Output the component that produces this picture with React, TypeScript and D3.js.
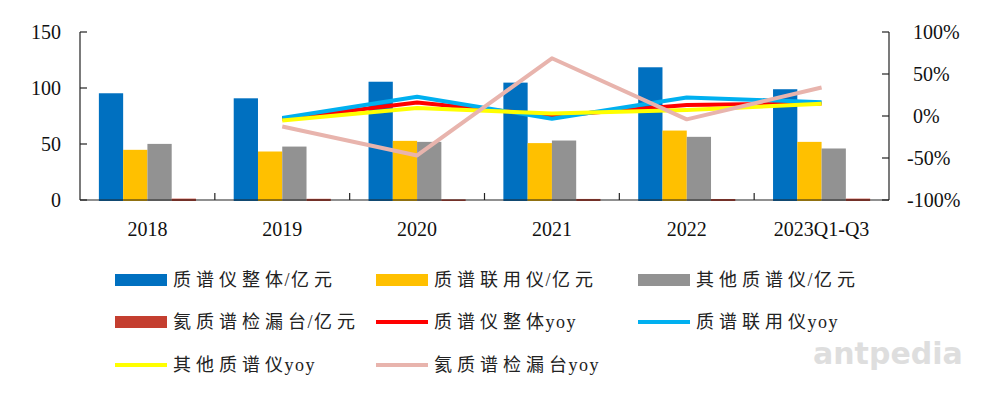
import React from "react";
import * as d3 from "d3";

const categories = ["2018", "2019", "2020", "2021", "2022", "2023Q1-Q3"];
const msTotal = [95.3, 90.8, 105.6, 104.8, 118.5, 98.9];
const msHyphenated = [44.8, 43.3, 52.8, 50.8, 62.0, 51.9];
const msOther = [50.1, 47.7, 51.9, 53.1, 56.4, 46.0];
const heliumLeak = [1.2, 1.05, 0.56, 0.94, 0.9, 1.2];

const yoyCats = ["2019", "2020", "2021", "2022", "2023Q1-Q3"];
const yoyTotal = [-3.7, 16, 0, 13, 15];
const yoyHyphenated = [-2.5, 23, -3.3, 22, 16.5];
const yoyOther = [-5.3, 9.4, 3, 7, 14.5];
const yoyHelium = [-12.5, -47, 68.7, -4, 34];

const leftTicks = [0, 50, 100, 150];
const rightTicks = [-100, -50, 0, 50, 100];

const barSeries = [
  { name: "质谱仪整体/亿元", values: msTotal, color: "#0070C0" },
  { name: "质谱联用仪/亿元", values: msHyphenated, color: "#FFC000" },
  { name: "其他质谱仪/亿元", values: msOther, color: "#929292" },
  { name: "氦质谱检漏台/亿元", values: heliumLeak, color: "#C43E2F" },
];
const lineSeries = [
  { name: "质谱仪整体yoy", values: yoyTotal, color: "#FF0000" },
  { name: "质谱联用仪yoy", values: yoyHyphenated, color: "#00B0F0" },
  { name: "其他质谱仪yoy", values: yoyOther, color: "#FFFF00" },
  { name: "氦质谱检漏台yoy", values: yoyHelium, color: "#E8B4AD" },
];

const FONT = "'Liberation Serif', 'Noto Sans CJK SC', serif";

function chars(s: string) {
  const arr = Array.from(s);
  return arr.map((ch, i) => {
    const cjk = /[\u3000-\u9fff]/.test(ch);
    const nextCjk = i + 1 < arr.length && /[\u3000-\u9fff]/.test(arr[i + 1]);
    return { t: ch, ls: cjk && nextCjk ? 5 : 1.5 };
  });
}

export default function App() {
  const W = 1000, H = 403;
  const x0 = 80, x1 = 889, yTop = 32, yBot = 200;
  const x = d3.scaleBand<string>().domain(categories).range([x0, x1]).padding(0);
  const bw = x.bandwidth();
  const xs = d3
    .scaleBand<string>()
    .domain(barSeries.map((s) => s.name))
    .range([bw * 0.14, bw * 0.86])
    .padding(0);
  const yL = d3.scaleLinear().domain([0, 150]).range([yBot, yTop]);
  const yR = d3.scaleLinear().domain([-100, 100]).range([yBot, yTop]);
  const line = d3
    .line<[string, number]>()
    .x((d) => (x(d[0]) as number) + bw / 2)
    .y((d) => yR(d[1]));

  const legendItems = [...barSeries.map((s) => ({ ...s, type: "bar" })), ...lineSeries.map((s) => ({ ...s, type: "line" }))];
  const colX = [115, 376, 638];
  const rowY = [280, 322, 365];

  return (
    <svg width={W} height={H} style={{ position: "absolute", left: 0, top: 0, background: "#fff" }} fontFamily={FONT}>
      <rect x={0} y={0} width={W} height={H} fill="#fff" />
      {/* bars */}
      {barSeries.map((s) =>
        s.values.map((v, i) => (
          <rect
            key={s.name + i}
            x={(x(categories[i]) as number) + (xs(s.name) as number)}
            y={yL(v)}
            width={xs.bandwidth()}
            height={yBot - yL(v) + 1}
            fill={s.color}
          />
        ))
      )}
      {/* axes */}
      <g stroke="#222" strokeWidth={1.2} fill="none">
        <line x1={x0} x2={x0} y1={yTop} y2={yBot} />
        <line x1={x1} x2={x1} y1={yTop} y2={yBot} />
        <line x1={x0} x2={x1} y1={yBot} y2={yBot} />
        {leftTicks.map((t) => (
          <line key={"lt" + t} x1={x0} x2={x0 + 7} y1={yL(t)} y2={yL(t)} />
        ))}
        {rightTicks.map((t) => (
          <line key={"rt" + t} x1={x1 - 7} x2={x1} y1={yR(t)} y2={yR(t)} />
        ))}
        {categories.slice(1).map((c) => (
          <line key={"xt" + c} x1={x(c)} x2={x(c)} y1={yBot} y2={yBot - 7} />
        ))}
      </g>
      {/* lines */}
      {lineSeries.map((s) => (
        <path
          key={s.name}
          d={line(yoyCats.map((c, i) => [c, s.values[i]] as [string, number])) as string}
          fill="none"
          stroke={s.color}
          strokeWidth={4}
          strokeLinejoin="round"
        />
      ))}
      {/* tick labels */}
      <g fontSize={20} fill="#111">
        {leftTicks.map((t) => (
          <text key={"ll" + t} x={61} y={yL(t)} dy="0.35em" textAnchor="end">
            {t}
          </text>
        ))}
        {rightTicks.map((t) => (
          <text key={"rl" + t} x={t < 0 ? 907 : 913} y={yR(t)} dy="0.35em" textAnchor="start">
            {t + "%"}
          </text>
        ))}
        {categories.map((c) => (
          <text key={"xl" + c} x={(x(c) as number) + bw / 2} y={236} textAnchor="middle">
            {c}
          </text>
        ))}
      </g>
      {/* watermark */}
      <text x={813} y={364} fontFamily="'DejaVu Sans', sans-serif" fontWeight="bold" fontSize={30} fill="#dedede">
        antpedia
      </text>
      {/* legend */}
      <g fontSize={18} fill="#222">
        {legendItems.map((it, i) => {
          const cx = colX[i % 3];
          const cy = rowY[Math.floor(i / 3)];
          return (
            <g key={it.name}>
              {it.type === "bar" ? (
                <rect x={cx} y={cy - 6} width={52} height={12} fill={it.color} />
              ) : (
                <line x1={cx} x2={cx + 52} y1={cy} y2={cy} stroke={it.color} strokeWidth={4} />
              )}
              <text x={cx + 58} y={cy} dy="0.36em">
                {chars(it.name).map((r, k) => (
                  <tspan key={k} letterSpacing={r.ls}>
                    {r.t}
                  </tspan>
                ))}
              </text>
            </g>
          );
        })}
      </g>
    </svg>
  );
}
